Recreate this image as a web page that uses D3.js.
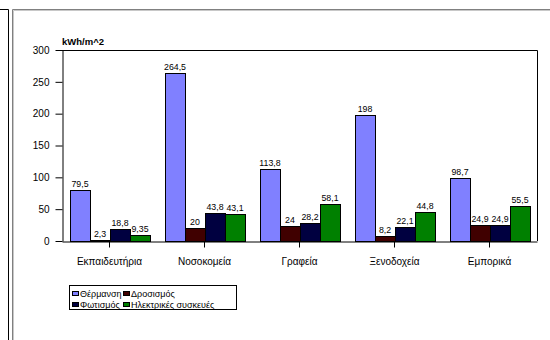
<!DOCTYPE html>
<html>
<head>
<meta charset="utf-8">
<script src="https://cdn.jsdelivr.net/npm/d3@7"></script>
<style>
  html, body { margin: 0; padding: 0; background: #fff; }
  svg { display: block; font-family: "Liberation Sans", Arial, sans-serif; }
</style>
</head>
<body>
<svg id="chart" width="550" height="340"></svg>
<script>
// Energy consumption per building type (kWh/m^2)
const categories = ["Εκπαιδευτήρια", "Νοσοκομεία", "Γραφεία", "Ξενοδοχεία", "Εμπορικά"];
const seriesNames = ["Θέρμανση", "Δροσισμός", "Φωτισμός", "Ηλεκτρικές συσκευές"];
const heating    = [79.5, 264.5, 113.8, 198, 98.7];
const cooling    = [2.3, 20, 24, 8.2, 24.9];
const lighting   = [18.8, 43.8, 28.2, 22.1, 24.9];
const appliances = [9.35, 43.1, 58.1, 44.8, 55.5];
const yTicks = [0, 50, 100, 150, 200, 250, 300];
const colors = ["#8080ff", "#400000", "#000040", "#008000"];

const series = [heating, cooling, lighting, appliances];
const svg = d3.select("#chart");

// Outer frames
svg.append("path").attr("d", "M0,9.5H8.5V340").attr("fill", "none").attr("stroke", "#000");
svg.append("path").attr("d", "M12.5,340V9.5H550").attr("fill", "none").attr("stroke", "#808080");
svg.append("path").attr("d", "M13.5,340V10.5H550").attr("fill", "none").attr("stroke", "#c8c8c8");

const plotLeft = 62, plotRight = 537, plotTop = 50, plotBottom = 241;

const x = d3.scaleBand().domain(categories).range([plotLeft, plotRight])
  .paddingInner(15 / 95).paddingOuter(7.5 / 95);
const xs = d3.scaleBand().domain(d3.range(series.length)).range([0, x.bandwidth()]);
const y = d3.scaleLinear().domain([0, 300]).range([plotBottom, plotTop]);

// Plot area border (top and right)
svg.append("path")
  .attr("d", `M${plotLeft},${plotTop + 0.5}H${plotRight + 0.5}V${plotBottom}`)
  .attr("fill", "none").attr("stroke", "#000");

// Bars
const groups = svg.append("g").selectAll("g")
  .data(series).join("g")
  .attr("fill", (d, i) => colors[i]);

groups.selectAll("rect")
  .data((d, i) => d.map((v, j) => ({ v, i, j })))
  .join("rect")
  .attr("x", d => Math.round(x(categories[d.j]) + xs(d.i)) + 0.5)
  .attr("y", d => Math.round(y(d.v)) + 0.5)
  .attr("width", xs.bandwidth())
  .attr("height", d => plotBottom - Math.round(y(d.v)))
  .attr("stroke", "#000").attr("stroke-width", 1);

// Value labels
groups.selectAll("text")
  .data((d, i) => d.map((v, j) => ({ v, i, j })))
  .join("text")
  .attr("x", d => x(categories[d.j]) + xs(d.i) + xs.bandwidth() / 2 + 0.5)
  .attr("y", d => y(d.v) - 3)
  .attr("text-anchor", "middle")
  .attr("font-size", "8.8px")
  .attr("fill", "#000")
  .text(d => String(d.v).replace(".", ","));

// Y axis
const yAxis = svg.append("g")
  .attr("transform", `translate(${plotLeft + 0.5},0)`)
  .call(d3.axisLeft(y).tickValues(yTicks).tickSize(7).tickPadding(6).tickSizeOuter(0));
yAxis.select(".domain").attr("stroke", "#000");
yAxis.selectAll("line").attr("stroke", "#000");
yAxis.selectAll("text").attr("font-size", "10px").attr("fill", "#000")
  .attr("font-family", "Liberation Sans, Arial, sans-serif");

// X axis
const xAxis = svg.append("g")
  .attr("transform", `translate(0,${plotBottom + 0.5})`)
  .call(d3.axisBottom(x).tickSize(6).tickPadding(10).tickSizeOuter(0));
xAxis.select(".domain").attr("stroke", "#000");
xAxis.selectAll("line").attr("stroke", "#000");
xAxis.selectAll("text").attr("font-size", "10px").attr("fill", "#000")
  .attr("font-family", "Liberation Sans, Arial, sans-serif");

// Unit title
svg.append("text")
  .attr("x", plotLeft).attr("y", 45)
  .attr("font-size", "9.5px").attr("font-weight", "bold")
  .text("kWh/m^2");

// Legend
const legend = svg.append("g");
legend.append("rect")
  .attr("x", 69.5).attr("y", 285.5).attr("width", 167).attr("height", 24)
  .attr("fill", "#fff").attr("stroke", "#000");
const legendPos = [[72, 291], [123, 291], [72, 302], [123, 302]];
seriesNames.forEach((name, k) => {
  const [lx, ly] = legendPos[k];
  legend.append("rect")
    .attr("x", lx + 0.5).attr("y", ly + 0.5).attr("width", 6).attr("height", 4)
    .attr("fill", colors[k]).attr("stroke", "#000");
  legend.append("text")
    .attr("x", lx + 8).attr("y", ly + 5.8)
    .attr("font-size", "9px")
    .text(name);
});
</script>
</body>
</html>
